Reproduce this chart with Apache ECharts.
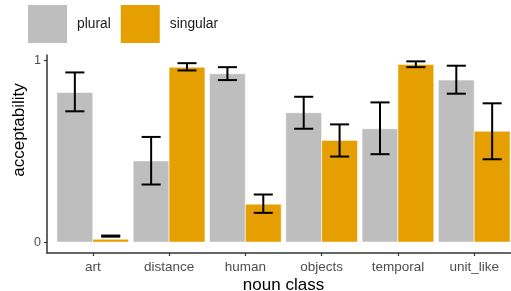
<!DOCTYPE html>
<html>
<head>
<meta charset="utf-8">
<script src="https://cdn.jsdelivr.net/npm/echarts@6/dist/echarts.min.js"></script>
<style>
  html, body { margin: 0; padding: 0; background: #fff; }
  #chart { width: 511px; height: 291px; }
</style>
</head>
<body>
<div id="chart"></div>
<script>
// noun classes on the x axis
const categories = ['art', 'distance', 'human', 'objects', 'temporal', 'unit_like'];

// plural: mean and error bar ends
const pluralMean = [0.824, 0.447, 0.927, 0.712, 0.624, 0.892];
const pluralLow = [0.72, 0.317, 0.892, 0.624, 0.484, 0.817];
const pluralHigh = [0.934, 0.579, 0.963, 0.8, 0.769, 0.971];

// singular: mean and error bar ends
const singularMean = [0.016, 0.963, 0.209, 0.56, 0.978, 0.61];
const singularLow = [0.03, 0.945, 0.161, 0.471, 0.963, 0.456];
const singularHigh = [0.036, 0.985, 0.262, 0.648, 0.995, 0.764];

const yTicks = [0, 1];

const GREY = '#BEBEBE';
const ORANGE = '#E69F00';
const BAR_W = 0.47;   // width of one bar in category units
const CAP_W = 0.25;   // width of error bar caps

const positions = categories.map((c, i) => i + 1);

// bar drawn with the axis scales; side -1 = left (plural), 1 = right (singular)
function barItem(side) {
  return function (params, api) {
    const x = api.value(0) + side * BAR_W / 2;
    const top = api.coord([x - BAR_W / 2, api.value(1)]);
    const bottom = api.coord([x + BAR_W / 2, 0]);
    return {
      type: 'rect',
      shape: { x: top[0], y: top[1], width: bottom[0] - top[0], height: bottom[1] - top[1] },
      style: { fill: api.visual('color'), stroke: 'rgba(255,255,255,0.7)', lineWidth: 0.8 }
    };
  };
}

function errItem(side) {
  return function (params, api) {
    const x = api.value(0) + side * BAR_W / 2;
    const lo = api.coord([x, api.value(1)]);
    const hi = api.coord([x, api.value(2)]);
    const l = api.coord([x - CAP_W / 2, 0])[0];
    const r = api.coord([x + CAP_W / 2, 0])[0];
    const st = { stroke: '#000', lineWidth: 2, fill: null };
    return {
      type: 'group',
      children: [
        { type: 'line', shape: { x1: lo[0], y1: lo[1], x2: hi[0], y2: hi[1] }, style: st },
        { type: 'line', shape: { x1: l, y1: lo[1], x2: r, y2: lo[1] }, style: st },
        { type: 'line', shape: { x1: l, y1: hi[1], x2: r, y2: hi[1] }, style: st }
      ]
    };
  };
}

const chart = echarts.init(document.getElementById('chart'));
chart.setOption({
  animation: false,
  textStyle: { fontFamily: 'Liberation Sans, Arial, sans-serif' },
  legend: {
    left: 28,
    top: 5,
    padding: 0,
    icon: 'rect',
    itemWidth: 39,
    itemHeight: 38,
    itemGap: 10,
    data: ['plural', 'singular'],
    textStyle: { fontSize: 13.8, color: '#1a1a1a', padding: [0, 0, 0, 5] }
  },
  grid: { left: 47, right: -9, top: 55, bottom: 38, outerBoundsMode: 'none' },
  xAxis: {
    type: 'value',
    min: 0.4,
    max: 6.6,
    name: 'noun class',
    nameLocation: 'middle',
    nameGap: 24,
    nameMoveOverlap: false,
    nameTextStyle: { fontSize: 17, color: '#000' },
    splitLine: { show: false },
    axisLine: { show: true, onZero: false, lineStyle: { color: '#333', width: 1.5 } },
    axisTick: { show: true, length: 3, customValues: positions, lineStyle: { color: '#333', width: 1.2 } },
    axisLabel: {
      customValues: positions,
      fontSize: 13.5,
      color: '#4d4d4d',
      margin: 7,
      formatter: v => categories[Math.round(v) - 1]
    }
  },
  yAxis: {
    type: 'value',
    min: -0.06,
    max: 1.03,
    name: 'acceptability',
    nameLocation: 'middle',
    nameGap: 19,
    nameMoveOverlap: false,
    nameRotate: 90,
    nameTextStyle: { fontSize: 17, color: '#000', padding: [0, 0, 0, 48] },
    splitLine: { show: false },
    axisLine: { show: true, onZero: false, lineStyle: { color: '#333', width: 1.5 } },
    axisTick: { show: true, length: 3, customValues: yTicks, lineStyle: { color: '#333', width: 1.2 } },
    axisLabel: { customValues: yTicks, fontSize: 12.5, color: '#4d4d4d', margin: 6 }
  },
  series: [
    {
      name: 'plural',
      type: 'custom',
      itemStyle: { color: GREY },
      renderItem: barItem(-1),
      encode: { x: 0, y: 1 },
      data: positions.map((p, i) => [p, pluralMean[i]])
    },
    {
      name: 'singular',
      type: 'custom',
      itemStyle: { color: ORANGE },
      renderItem: barItem(1),
      encode: { x: 0, y: 1 },
      data: positions.map((p, i) => [p, singularMean[i]])
    },
    {
      name: 'plural_err',
      type: 'custom',
      renderItem: errItem(-1),
      encode: { x: 0, y: [1, 2] },
      z: 5,
      data: positions.map((p, i) => [p, pluralLow[i], pluralHigh[i]])
    },
    {
      name: 'singular_err',
      type: 'custom',
      renderItem: errItem(1),
      encode: { x: 0, y: [1, 2] },
      z: 5,
      data: positions.map((p, i) => [p, singularLow[i], singularHigh[i]])
    }
  ]
});
</script>
</body>
</html>
